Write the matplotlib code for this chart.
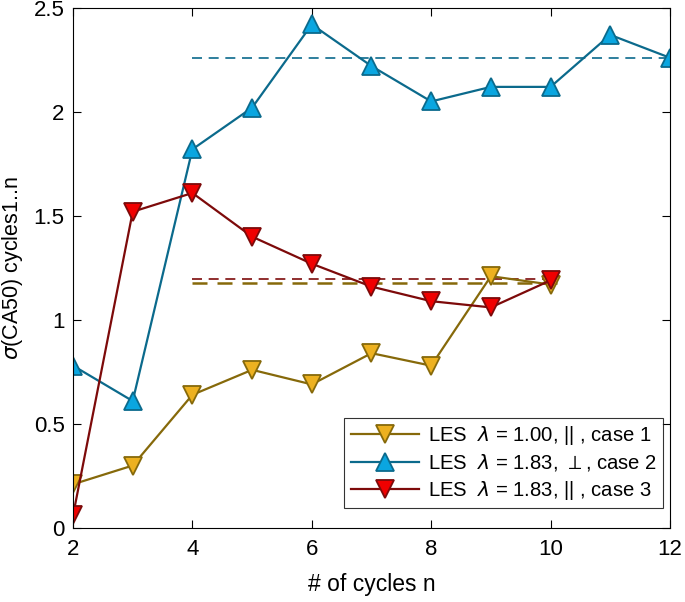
import matplotlib.pyplot as plt
import numpy as np

plt.rcParams['font.family'] = ['Liberation Sans', 'DejaVu Sans']
plt.rcParams['mathtext.fontset'] = 'dejavusans'

# sigma(CA50) over cycles 1..n
cycles_1 = [2, 3, 4, 5, 6, 7, 8, 9, 10]
sigma_1 = [0.21, 0.30, 0.64, 0.76, 0.69, 0.84, 0.78, 1.21, 1.17]

cycles_2 = [2, 3, 4, 5, 6, 7, 8, 9, 10, 11, 12]
sigma_2 = [0.78, 0.61, 1.82, 2.02, 2.42, 2.22, 2.05, 2.12, 2.12, 2.37, 2.26]

cycles_3 = [2, 3, 4, 5, 6, 7, 8, 9, 10]
sigma_3 = [0.06, 1.52, 1.61, 1.40, 1.27, 1.16, 1.09, 1.06, 1.19]

# reference levels (dashed)
ref_1 = 1.175
ref_2 = 2.26
ref_3 = 1.195
ref_start = 4
ref_end_short = 10.1
ref_end_long = 12

labels = ['LES  $\\lambda$ = 1.00, || , case 1',
          'LES  $\\lambda$ = 1.83, $\\perp$, case 2',
          'LES  $\\lambda$ = 1.83, || , case 3']

fig = plt.figure(figsize=(6.85, 6.02), dpi=100)
ax = fig.add_axes([0.1066, 0.123, 0.8714, 0.864])

c1_line, c1_face = '#86690a', '#edb120'
c2_line, c2_face = '#0b6a8c', '#0aa6e0'
c3_line, c3_face = '#7d0a0a', '#f00000'

ax.hlines(ref_2, ref_start, ref_end_long, colors=c2_line, linestyles=(0, (6, 4)), linewidth=1.2)
ax.hlines(ref_3, ref_start, ref_end_short, colors=c3_line, linestyles=(0, (6, 4)), linewidth=1.2)
ax.hlines(ref_1, ref_start, ref_end_short, colors=c1_line, linestyles=(0, (6, 4)), linewidth=1.8)

ax.plot(cycles_1, sigma_1, color=c1_line, lw=1.6, marker='v', ms=12.5,
        mfc=c1_face, mec=c1_line, mew=1.3, label=labels[0])
ax.plot(cycles_2, sigma_2, color=c2_line, lw=1.6, marker='^', ms=12.5,
        mfc=c2_face, mec=c2_line, mew=1.3, label=labels[1])
ax.plot(cycles_3, sigma_3, color=c3_line, lw=1.6, marker='v', ms=12.5,
        mfc=c3_face, mec=c3_line, mew=1.3, label=labels[2])

ax.set_xlim(2, 12)
ax.set_ylim(0, 2.5)
ax.set_xticks([2, 4, 6, 8, 10, 12])
ax.set_yticks([0, 0.5, 1, 1.5, 2, 2.5])
ax.set_yticklabels(['0', '0.5', '1', '1.5', '2', '2.5'])
ax.tick_params(direction='in', top=True, right=True, labelsize=16, length=6, width=0.8)
ax.tick_params(axis='x', pad=8)
ax.tick_params(axis='y', pad=6)
for s in ax.spines.values():
    s.set_linewidth(0.8)

ax.set_xlabel('# of cycles n', fontsize=16.5, labelpad=9)
ax.set_ylabel('$\\sigma$(CA50) cycles1..n', fontsize=15.5, labelpad=6)

leg = ax.legend(loc='lower right', bbox_to_anchor=(0.988, 0.038), fontsize=14.6,
                frameon=True, fancybox=False, edgecolor='black', handlelength=3.4,
                borderpad=0.3, labelspacing=0.28, handletextpad=0.4, borderaxespad=0)
leg.get_frame().set_linewidth(0.8)

fig.savefig('out.png', dpi=100)
